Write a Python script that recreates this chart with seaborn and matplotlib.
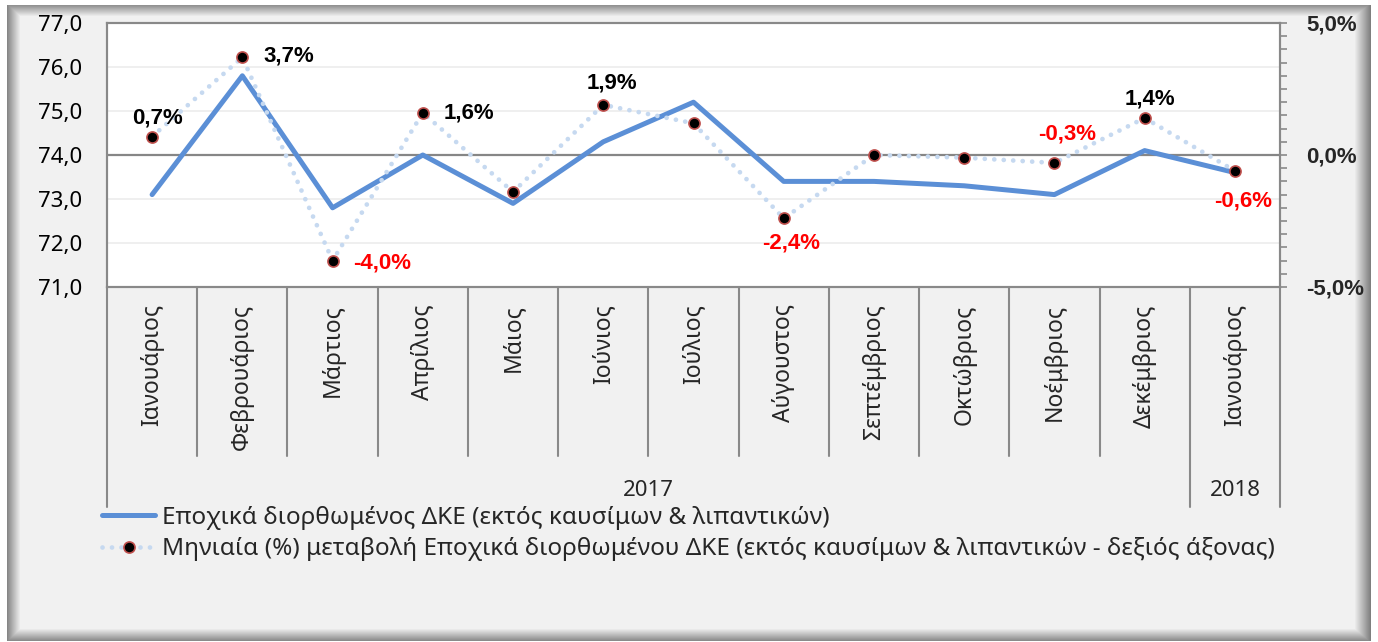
import numpy as np
import pandas as pd
import matplotlib.pyplot as plt
import matplotlib.transforms as mtransforms
from matplotlib.ticker import FixedLocator, MultipleLocator, FuncFormatter
import seaborn as sns

sns.set_theme(style="white")
plt.rcParams['font.family'] = ['Noto Sans', 'DejaVu Sans']
BOLD = ['Liberation Sans', 'DejaVu Sans']

# Δεδομένα
months = ["Ιανουάριος", "Φεβρουάριος", "Μάρτιος", "Απρίλιος", "Μάιος", "Ιούνιος",
          "Ιούλιος", "Αύγουστος", "Σεπτέμβριος", "Οκτώβριος", "Νοέμβριος",
          "Δεκέμβριος", "Ιανουάριος"]
years = ["2017", "2018"]
year_months = [12, 1]
sa_index = [73.1, 75.8, 72.8, 74.0, 72.9, 74.3, 75.2, 73.4, 73.4, 73.3, 73.1, 74.1, 73.6]
mom_change = [0.7, 3.7, -4.0, 1.6, -1.4, 1.9, 1.2, -2.4, 0.0, -0.1, -0.3, 1.4, -0.6]
label_1 = "Εποχικά διορθωμένος ΔΚΕ (εκτός καυσίμων & λιπαντικών)"
label_2 = "Μηνιαία (%) μεταβολή Εποχικά διορθωμένου ΔΚΕ (εκτός καυσίμων & λιπαντικών - δεξιός άξονας)"
# which points carry a data label and where it sits (offset in points, alignment)
shown_labels = {0: (4, 6, "center", "bottom"), 1: (15, 1, "left", "center"),
                2: (15, -2, "left", "center"), 3: (15, 0, "left", "center"),
                5: (6, 8, "center", "bottom"), 7: (5, -10, "center", "top"),
                10: (9, 13, "center", "bottom"), 11: (4, 6, "center", "bottom"),
                12: (6, -14, "center", "top")}

df = pd.DataFrame({"pos": np.arange(len(months)), "sa": sa_index, "mom": mom_change})

W, H = 1378, 642
fig = plt.figure(figsize=(W / 100, H / 100), dpi=100, facecolor="white")

# background frame with shadow
bg_ax = fig.add_axes([0, 0, 1, 1], zorder=-10)
xx, yy = np.meshgrid(np.arange(W), np.arange(H))
inside = (xx >= 7) & (xx <= 1370) & (yy >= 5) & (yy <= 640)
dark = np.maximum.reduce([
    np.clip(1 - (xx - 7) / 13, 0, 1) * 0.42,
    np.clip(1 - (yy - 5) / 11, 0, 1) * 0.38,
    np.clip(1 - (1370 - xx) / 16, 0, 1) * 0.45,
    np.clip(1 - (640 - yy) / 12, 0, 1) * 0.40,
])
img = np.where(inside, 0.949 - dark, 1.0)
bg_ax.imshow(np.dstack([img] * 3), aspect="auto", extent=[0, W, H, 0])
bg_ax.axis("off")

ax = fig.add_axes([107 / W, 1 - 287 / H, (1280 - 107) / W, (287 - 23) / H])
ax.set_facecolor("white")
ax2 = ax.twinx()

for y in range(71, 78):
    ax.axhline(y, color="#ececec", lw=1.2, zorder=0.5)
ax.axhline(74, color="#868686", lw=1.6, zorder=1)

sns.lineplot(data=df, x="pos", y="sa", ax=ax, color="#5b8fd6", linewidth=3.6,
             label=label_1, legend=False, zorder=3)
sns.lineplot(data=df, x="pos", y="mom", ax=ax2, color="#c6d9f0", linewidth=3.4,
             linestyle=(0, (0.01, 2.0)), dash_capstyle="round", marker="o",
             markersize=8, markerfacecolor="black", markeredgecolor="#c0504d",
             markeredgewidth=1.2, label=label_2, legend=False, zorder=4)

ax.set_xlim(-0.5, len(months) - 0.5)
ax.set_ylim(71, 77)
ax2.set_ylim(-5, 5)
ax.set_xlabel("")
ax.set_ylabel("")
ax2.set_ylabel("")

ax.set_yticks(range(71, 78))
ax.yaxis.set_major_formatter(FuncFormatter(lambda v, p: f"{v:.1f}".replace(".", ",")))
ax.tick_params(axis="y", length=0, pad=18, labelsize=16, labelcolor="black")
ax.set_xticks([])

ax2.yaxis.set_major_locator(FixedLocator([-5, 0, 5]))
ax2.yaxis.set_minor_locator(MultipleLocator(0.5))
ax2.yaxis.set_major_formatter(FuncFormatter(lambda v, p: f"{v:.1f}%".replace(".", ",")))
ax2.tick_params(axis="y", which="both", direction="out", length=5, width=1.2,
                color="#898989", right=True, labelsize=16, pad=14)
for t in ax2.get_yticklabels():
    t.set_fontweight("bold")
    t.set_family(BOLD)

for a in (ax, ax2):
    for s in a.spines.values():
        s.set_color("#898989")
        s.set_linewidth(1.5)
        s.set_visible(True)

# data labels
for i, (dx, dy, ha, va) in shown_labels.items():
    v = mom_change[i]
    ax2.annotate(f"{v:.1f}%".replace(".", ","), (i, v), xytext=(dx, dy),
                 textcoords="offset points", ha=ha, va=va, fontsize=16,
                 fontweight="bold", family=BOLD,
                 color="red" if v < 0 else "black", zorder=6)

# multi-level category axis
trans = mtransforms.blended_transform_factory(ax.transData, ax.transAxes)
for i, m in enumerate(months):
    ax.text(i, -0.065, m, rotation=90, ha="center", va="top", fontsize=16.5,
            transform=trans)
bounds = np.cumsum([0] + year_months) - 0.5
for b in np.arange(-0.5, len(months)):
    long = b in bounds
    ax.plot([b, b], [0, -0.835 if long else -0.64], transform=trans,
            color="#898989", lw=1.5, clip_on=False)
for yr, lo, hi in zip(years, bounds[:-1], bounds[1:]):
    ax.text((lo + hi) / 2, -0.77, yr, ha="center", va="center", fontsize=16,
            transform=trans)

handles = [l for l in ax.get_lines() if l.get_label() == label_1] + \
          [l for l in ax2.get_lines() if l.get_label() == label_2]
fig.legend(handles=handles, labels=[label_1, label_2], loc="upper left",
           bbox_to_anchor=(102 / W, 1 - 506 / H), frameon=False, fontsize=17.5,
           handlelength=2.2, handletextpad=0.25, labelspacing=0.3, borderpad=0,
           borderaxespad=0, numpoints=1)

fig.savefig("out.png", dpi=100, facecolor=fig.get_facecolor())
